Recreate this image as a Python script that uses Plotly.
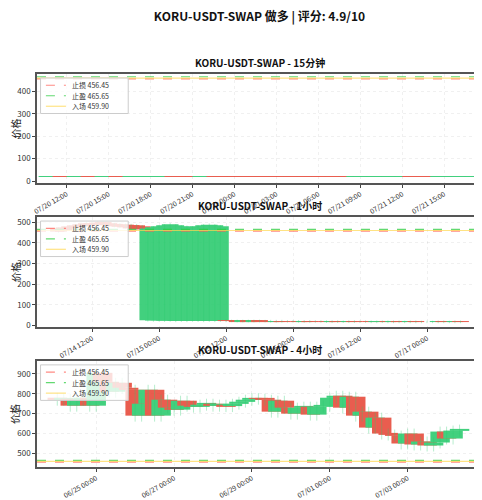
import plotly.graph_objects as go
import pandas as pd

title = "KORU-USDT-SWAP 做多 | 评分: 4.9/10"
sub_titles = ["KORU-USDT-SWAP - 15分钟", "KORU-USDT-SWAP - 1小时", "KORU-USDT-SWAP - 4小时"]
y_title = "价格"
stop_loss, take_profit, entry = 456.45, 465.65, 459.90

# 15m panel (sampled)
p1_start, p1_freq = "2025-07-20 11:30", "60min"
p1_open = [18.5, 18.8, 18.6, 18.9, 18.7, 19.0, 18.8, 18.9, 19.2, 21.5, 21.8, 21.4, 21.6, 21.2, 21.0, 20.8, 21.1, 20.6, 20.9, 20.4, 20.2, 19.8, 19.5, 20.1, 20.6, 20.9, 21.2, 21.0, 20.8, 21.1]
p1_close = [18.8, 18.6, 18.9, 18.7, 19.0, 18.8, 18.9, 19.2, 19.5, 21.0, 21.4, 21.6, 21.2, 21.0, 20.8, 20.4, 20.6, 20.2, 20.4, 19.8, 19.6, 19.2, 20.0, 20.6, 20.9, 21.2, 21.0, 20.8, 21.1, 21.5]
p1_high = [19.2, 19.1, 19.2, 19.1, 19.3, 19.2, 19.2, 19.5, 19.8, 22.0, 22.1, 22.0, 21.9, 21.5, 21.3, 21.1, 21.4, 20.9, 21.2, 20.6, 20.5, 20.0, 20.3, 20.8, 21.2, 21.5, 21.4, 21.2, 21.4, 21.8]
p1_low = [18.2, 18.4, 18.4, 18.5, 18.5, 18.6, 18.6, 18.7, 19.0, 20.7, 21.1, 21.2, 21.0, 20.8, 20.6, 20.2, 20.4, 20.0, 20.2, 19.5, 19.3, 19.0, 19.3, 19.9, 20.4, 20.7, 20.8, 20.6, 20.6, 20.9]

# 1h panel
p2_start, p2_freq = "2025-07-14 06:00", "60min"
p2_open = [470, 475, 480, 485, 490, 495, 495, 498, 497, 495, 492, 490, 488, 486, 485, 480,
           25, 24, 25, 23, 24, 22, 23, 22, 24, 23, 22, 23, 22, 23,
           23, 22, 22, 21, 22, 21, 22, 21, 21, 20, 21, 20, 20, 20, 19, 20, 19, 19, 19, 18, 19, 18, 18, 19,
           18, 18, 18, 17, 18, 18, 17, 18, 17, 17, 18, 17, 17, 17, 17, 18, 17, 17, 18]
p2_close = [455, 460, 470, 475, 480, 485, 488, 490, 492, 485, 480, 478, 475, 470, 465, 470,
            470, 475, 480, 485, 490, 485, 480, 478, 475, 480, 485, 488, 485, 480,
            22, 22, 21, 22, 21, 22, 21, 21, 20, 21, 20, 20, 20, 19, 20, 19, 19, 19, 18, 19, 18, 18, 19, 18,
            18, 18, 17, 18, 18, 17, 18, 17, 17, 18, 17, 17, 17, 17, 18, 17, 17, 18, 17]
p2_high = [max(o, c) + 6 for o, c in zip(p2_open, p2_close)]
p2_low = [min(o, c) - 6 for o, c in zip(p2_open, p2_close)]

# 4h panel
p3_start, p3_freq = "2025-06-24 00:00", "4h"
p3_close = [770, 775, 740, 770, 780, 740, 905, 860, 810, 855, 830, 820, 690, 750, 820, 690, 770, 730, 720,
            765, 740, 735, 745, 750, 740, 745, 738, 750, 760, 770, 778, 775, 770, 710, 765, 730, 700, 730,
            735, 695, 735, 740, 780, 790, 730, 785, 690, 710, 630, 680, 600, 595, 590, 550, 600,
            545, 560, 540, 555, 610, 575, 615, 620]
p3_open = [780] + p3_close[:-1]
p3_high = [max(o, c) + 25 for o, c in zip(p3_open, p3_close)]
p3_low = [min(o, c) - 30 for o, c in zip(p3_open, p3_close)]

GREEN, RED = "#2ecc71", "#e74c3c"
panels = [
    (p1_start, p1_freq, p1_open, p1_close, p1_high, p1_low, 3 * 3600e3, [-8, 478]),
    (p2_start, p2_freq, p2_open, p2_close, p2_high, p2_low, 3 * 3600e3, [-8, 525]),
    (p3_start, p3_freq, p3_open, p3_close, p3_high, p3_low, 12 * 3600e3, [432, 965]),
]
domains = [[0.723, 1.0], [0.356, 0.636], [0.0, 0.27]]
ticks = [
    dict(dtick=3 * 3600e3, tick0="2025-07-20 12:00", tickformat="%m/%d %H:%M"),
    dict(dtick=12 * 3600e3, tick0="2025-07-14 12:00", tickformat="%m/%d %H:%M"),
    dict(dtick=2 * 86400e3, tick0="2025-06-25 00:00", tickformat="%m/%d %H:%M"),
]
xranges = [["2025-07-20 09:53", "2025-07-21 17:42"], ["2025-07-14 02:09", "2025-07-17 09:51"],
           ["2025-06-23 11:30", "2025-07-04 21:50"]]
legend_items = [(f"止损 {stop_loss:.2f}", "rgba(255,99,90,0.75)", "dash", stop_loss),
                (f"止盈 {take_profit:.2f}", "rgba(46,204,64,0.75)", "dash", take_profit),
                (f"入场 {entry:.2f}", "rgba(255,215,80,0.7)", "solid", entry)]

fig = go.Figure()
H = 393.0  # plot-area height in px
W = 445.0  # plot-area width in px
for i, (st, fq, o, c, h, l, w, yr) in enumerate(panels):
    n = i + 1
    xa, ya = ("x" if n == 1 else f"x{n}"), ("y" if n == 1 else f"y{n}")
    x = pd.date_range(st, periods=len(o), freq=fq)
    cols = [GREEN if cc >= oo else RED for oo, cc in zip(o, c)]
    wx, wy = [], []
    for xi, hi, lo in zip(x, h, l):
        wx += [xi, xi, None]; wy += [lo, hi, None]
    fig.add_trace(go.Scatter(x=wx, y=wy, mode="lines", line=dict(color="rgba(46,204,113,0.35)", width=1),
                             xaxis=xa, yaxis=ya, showlegend=False, hoverinfo="skip"))
    fig.add_trace(go.Bar(x=x, y=[abs(cc - oo) for oo, cc in zip(o, c)], base=[min(oo, cc) for oo, cc in zip(o, c)],
                         width=w, marker=dict(color=cols, line=dict(width=0)), opacity=0.9,
                         xaxis=xa, yaxis=ya, showlegend=False))
    xe = xranges[i]
    for name, col, dash, val in legend_items:
        fig.add_trace(go.Scatter(x=xe, y=[val, val], mode="lines", showlegend=False,
                                 line=dict(color=col, width=1.2, dash=dash), xaxis=xa, yaxis=ya))
    axis_common = dict(showline=True, linecolor="#555", linewidth=1.5, mirror=True, gridcolor="rgba(0,0,0,0.06)",
                       griddash="dot", tickfont=dict(size=8, color="#333"), ticks="outside", ticklen=3,
                       automargin=False)
    fig.layout[f"xaxis{'' if n == 1 else n}"] = dict(anchor=ya, range=xe, type="date", tickangle=-30,
                                                    **ticks[i], **{**axis_common, "tickfont": dict(size=7, color="#333")})
    fig.layout[f"yaxis{'' if n == 1 else n}"] = dict(anchor=xa, domain=domains[i], range=yr, dtick=100,
                                                    **axis_common)
    fig.add_annotation(text=y_title, xref="paper", yref="paper", x=-22 / W, y=sum(domains[i]) / 2,
                       textangle=-90, showarrow=False, xanchor="center", yanchor="middle",
                       font=dict(size=10, color="#222"))
    # manual legend box
    top = domains[i][1] - 4 / H
    row = 10.5 / H
    fig.add_shape(type="rect", xref="paper", yref="paper", x0=0.008, x1=0.205, y0=top - 3 * row - 4 / H, y1=top,
                  fillcolor="rgba(255,255,255,0.8)", line=dict(color="#ccc", width=1), layer="above")
    for k, (name, col, dash, _) in enumerate(legend_items):
        yy = top - (k + 0.5) * row - 2 / H
        fig.add_shape(type="line", xref="paper", yref="paper", x0=0.02, x1=0.065, y0=yy, y1=yy,
                      line=dict(color=col, width=1.2, dash=dash), layer="above")
        fig.add_annotation(text=name, xref="paper", yref="paper", x=0.075, y=yy, xanchor="left", yanchor="middle",
                           showarrow=False, font=dict(size=7, color="#333"))
    fig.add_annotation(text=f"<b>{sub_titles[i]}</b>", xref="paper", yref="paper", x=0.5,
                       y=domains[i][1], yanchor="bottom", yshift=2, showarrow=False, font=dict(size=10, color="#111"))

fig.update_layout(
    width=482, height=500, margin=dict(l=29, r=8, t=66, b=41, autoexpand=False), barmode="overlay",
    showlegend=False,
    plot_bgcolor="white", paper_bgcolor="white", font=dict(family="Noto Sans CJK SC"),
    title=dict(text=f"<b>{title}</b>", x=0.5, xref="paper", y=0.99, yanchor="top", font=dict(size=12, color="#111")),
)
fig.write_html("out.html")
